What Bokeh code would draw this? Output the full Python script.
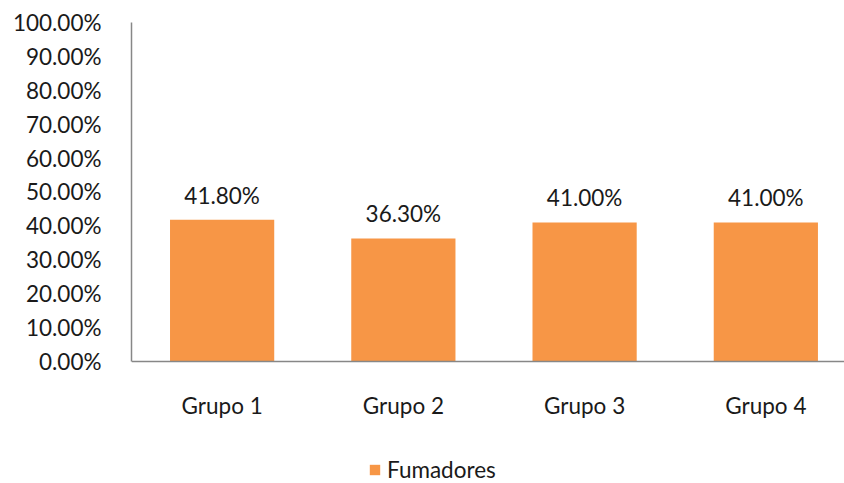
from bokeh.plotting import figure
from bokeh.models import Range1d, FixedTicker, ColumnDataSource, Legend, LegendItem, LabelSet, Span
from bokeh.core.properties import value
from bokeh.embed import file_html
from bokeh.resources import INLINE

categories = ["Grupo 1", "Grupo 2", "Grupo 3", "Grupo 4"]
fumadores = [41.80, 36.30, 41.00, 41.00]
y_ticks = [0, 10, 20, 30, 40, 50, 60, 70, 80, 90, 100]

FONT = "Lato"
FS = "22.5px"
COLOR = "#F79646"
TXT = "#1a1a1a"
AXC = "#878787"

xs = [i + 0.5 for i in range(len(categories))]
src = ColumnDataSource(dict(x=xs, y=fumadores, cat=categories,
                            base=[0] * len(categories),
                            lab=[f"{v:.2f}%" for v in fumadores]))

p = figure(width=844, height=483, output_backend="svg", toolbar_location=None,
           x_range=Range1d(0, 3.934), y_range=Range1d(-36, 100),
           min_border_left=131, min_border_right=0, min_border_top=22, min_border_bottom=0)
p.outline_line_color = None
p.grid.visible = False
p.xaxis.visible = False

r = p.vbar(x="x", top="y", width=0.575, source=src, fill_color=COLOR, line_color=None)

p.add_layout(Span(location=0, dimension="width", line_color=AXC, line_width=1.5))

p.add_layout(LabelSet(x="x", y="y", text="lab", source=src, text_align="center",
                      text_baseline="bottom", y_offset=11, text_font=value(FONT),
                      text_font_size=FS, text_color=TXT))
p.text(x="x", y="base", text="cat", source=src, text_align="center",
       text_baseline="middle", y_offset=44, text_font=value(FONT),
       text_font_size=FS, text_color=TXT)

p.yaxis.ticker = FixedTicker(ticks=y_ticks)
p.yaxis.major_label_overrides = {t: f"{t:.2f}%" for t in y_ticks}
p.yaxis.bounds = (0, 100)
p.yaxis.major_tick_line_color = None
p.yaxis.minor_tick_line_color = None
p.yaxis.axis_line_color = AXC
p.yaxis.axis_line_width = 1.5
p.yaxis.major_label_text_font = FONT
p.yaxis.major_label_text_font_size = FS
p.yaxis.major_label_text_color = TXT
p.yaxis.major_label_standoff = 24

legend = Legend(items=[LegendItem(label="Fumadores", renderers=[r])],
                orientation="horizontal", location=(237, 0),
                label_text_font=FONT, label_text_font_size=FS,
                label_text_color=TXT, glyph_width=13, glyph_height=13,
                label_standoff=6, border_line_color=None, background_fill_alpha=0,
                margin=0, padding=2)
p.add_layout(legend, "center")

open("out.html", "w").write(file_html(p, INLINE))
